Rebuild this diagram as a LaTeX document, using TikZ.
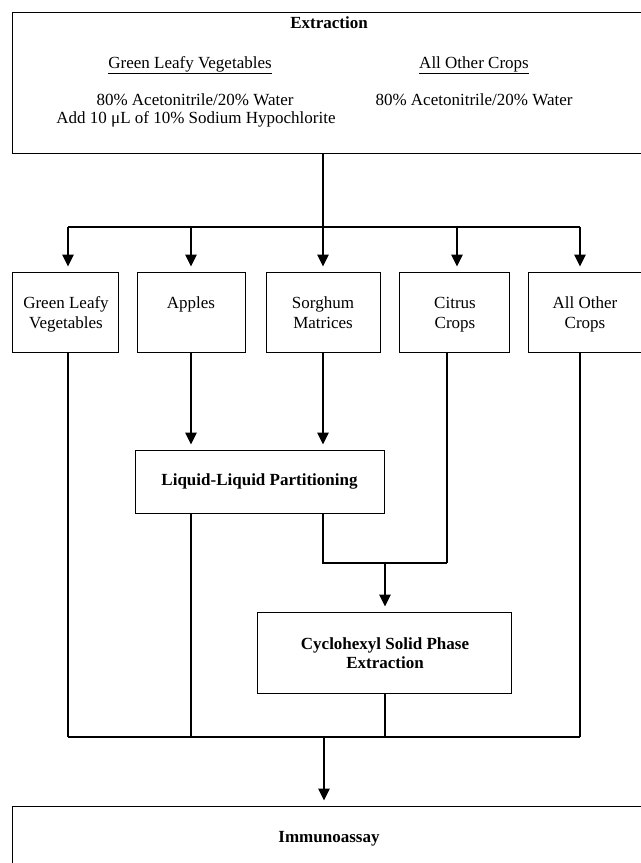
\documentclass[tikz,border=0pt]{standalone}
\usepackage{fontspec}
\setmainfont{Liberation Serif}
\usetikzlibrary{arrows.meta}
\begin{document}
\begin{tikzpicture}[x=1bp,y=-1bp,
  boxst/.style={draw,line width=1bp,inner sep=0pt},
  txt/.style={inner sep=0pt,anchor=base,font=\fontsize{17bp}{19.5bp}\selectfont},
  btxt/.style={inner sep=0pt,anchor=base,font=\fontsize{17bp}{19.5bp}\selectfont\bfseries},
  conn/.style={line width=1.2bp},
  arr/.style={conn,-{Triangle[length=12bp,width=11.5bp]},shorten >=5bp}]
\useasboundingbox (0,0) rectangle (641,863);
\clip (0,0) rectangle (641,863);
\fill[white] (0,0) rectangle (641,863);

% boxes
\node[boxst,minimum width=632bp,minimum height=140bp] (top) at (329,83) {};
\node[boxst,minimum width=105bp,minimum height=80bp] (gl) at (65.5,312) {};
\node[boxst,minimum width=108bp,minimum height=80bp] (ap) at (191,312) {};
\node[boxst,minimum width=114bp,minimum height=80bp] (so) at (323,312) {};
\node[boxst,minimum width=110bp,minimum height=80bp] (ci) at (454,312) {};
\node[boxst,minimum width=114bp,minimum height=80bp] (ao) at (585,312) {};
\node[boxst,minimum width=249bp,minimum height=63bp] (llp) at (259.5,481.5) {};
\node[boxst,minimum width=254bp,minimum height=81bp] (cspe) at (384,652.5) {};
\node[boxst,minimum width=632bp,minimum height=62bp] (imm) at (329,837) {};

% texts in top box
\node[btxt] (extT) at (329,28.5) {Extraction};
\node[txt] (glH) at (190,68.5) {\underline{Green Leafy Vegetables}};
\node[txt] (aoH) at (474,68.5) {\underline{All Other Crops}};
\node[txt] (glS1) at (195,105.5) {80\% Acetonitrile/20\% Water};
\node[txt] (glS2) at (196,123) {Add 10 μL of 10\% Sodium Hypochlorite};
\node[txt] (aoS) at (474,105.5) {80\% Acetonitrile/20\% Water};

% row texts
\node[txt] (glT1) at (66,308.5) {Green Leafy};
\node[txt] (glT2) at (66,328.5) {Vegetables};
\node[txt] (apT) at (191,308.5) {Apples};
\node[txt] (soT1) at (323,308.5) {Sorghum};
\node[txt] (soT2) at (323,328.5) {Matrices};
\node[txt] (ciT1) at (455,308.5) {Citrus};
\node[txt] (ciT2) at (455,328.5) {Crops};
\node[txt] (aoT1) at (585,308.5) {All Other};
\node[txt] (aoT2) at (585,328.5) {Crops};

\node[btxt] (llpT) at (259.5,485) {Liquid-Liquid Partitioning};
\node[btxt] (cspeT1) at (385,649.5) {Cyclohexyl Solid Phase};
\node[btxt] (cspeT2) at (385,668.5) {Extraction};
\node[btxt] (immT) at (329,842.5) {Immunoassay};

% coordinates
\coordinate (b0) at (323,227);
\coordinate (bL) at (68,227);
\coordinate (bA) at (191,227);
\coordinate (bC) at (457,227);
\coordinate (bR) at (580,227);
\coordinate (m) at (447,563);
\coordinate (mc) at (385,563);
\coordinate (qL) at (68,737);
\coordinate (qR) at (580,737);
\coordinate (qM) at (324,737);

% connectors
\draw[conn] (top.south -| b0) -- (b0);
\draw[conn] (bL) -- (bR);
\draw[arr] (bL) -- (bL |- gl.north);
\draw[arr] (bA) -- (bA |- ap.north);
\draw[arr] (b0) -- (b0 |- so.north);
\draw[arr] (bC) -- (bC |- ci.north);
\draw[arr] (bR) -- (bR |- ao.north);

\draw[conn] (gl.south -| qL) -- (qL);
\draw[arr] (ap.south) -- (ap.south |- llp.north);
\draw[arr] (so.south) -- (so.south |- llp.north);
\draw[conn] (ci.south -| m) -- (m);
\draw[conn] (ao.south -| qR) -- (qR);
\draw[conn] (llp.south -| so.south) -- (so.south |- m) -- (m);
\draw[arr] (mc) -- (mc |- cspe.north);
\draw[conn] (llp.south -| ap.south) -- (ap.south |- qL);
\draw[conn] (cspe.south -| mc) -- (mc |- qL);
\draw[conn] (qL) -- (qR);
\draw[arr] (qM) -- (qM |- imm.north);
\end{tikzpicture}
\end{document}
